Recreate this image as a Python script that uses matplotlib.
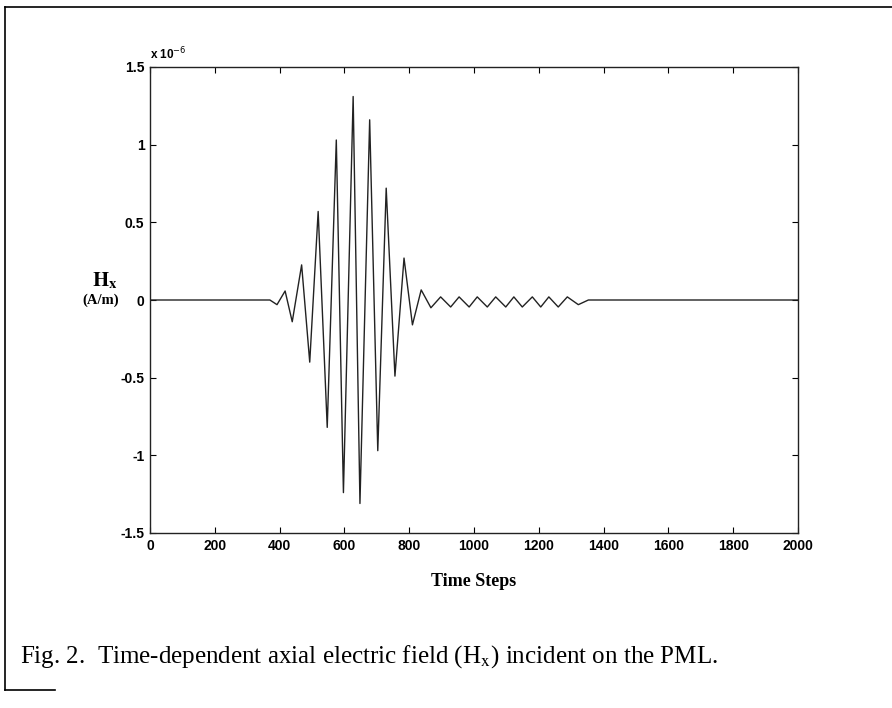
import numpy as np
import matplotlib
matplotlib.use("Agg")
import matplotlib.pyplot as plt
from matplotlib.lines import Line2D

# data: extrema of the pulse (values in units of 1e-6 A/m)
time_steps = [0, 370, 392, 417, 439, 468, 493, 519, 547, 575, 597, 627, 648,
              678, 703, 729, 756, 784, 810, 837, 867, 897, 928, 954, 985,
              1010, 1041, 1067, 1098, 1123, 1149, 1180, 1206, 1231, 1260,
              1288, 1322, 1353, 1375, 2000]
hx_e6 = [0.0, 0.0, -0.03, 0.058, -0.14, 0.226, -0.40, 0.57, -0.82, 1.03,
         -1.24, 1.31, -1.31, 1.16, -0.97, 0.72, -0.49, 0.27, -0.16, 0.065,
         -0.05, 0.02, -0.045, 0.02, -0.045, 0.02, -0.045, 0.02, -0.045,
         0.02, -0.045, 0.02, -0.045, 0.02, -0.045, 0.02, -0.03, 0.0, 0.0,
         0.0]

x_ticks = [0, 200, 400, 600, 800, 1000, 1200, 1400, 1600, 1800, 2000]
y_ticks = [-1.5, -1, -0.5, 0, 0.5, 1, 1.5]
y_tick_labels = ["-1.5", "-1", "-0.5", "0", "0.5", "1", "1.5"]

W, H = 892, 708
fig = plt.figure(figsize=(W / 100, H / 100), dpi=100)
fig.patch.set_facecolor("white")

# axes box in pixel coordinates of the scan
left, right, top, bottom = 150, 798, 67, 533
ax = fig.add_axes([left / W, (H - bottom) / H, (right - left) / W, (bottom - top) / H])

ax.plot(time_steps, hx_e6, color="#222222", linewidth=1.0)

ax.set_xlim(0, 2000)
ax.set_ylim(-1.5, 1.5)
ax.set_xticks(x_ticks)
ax.set_yticks(y_ticks)
ax.set_yticklabels(y_tick_labels)
ax.tick_params(direction="in", length=4, width=0.8, top=True, right=True,
               labelsize=10, pad=4, colors="black")
for lbl in ax.get_xticklabels() + ax.get_yticklabels():
    lbl.set_family("Liberation Sans")
    lbl.set_fontweight("bold")
for sp in ax.spines.values():
    sp.set_linewidth(1.0)
    sp.set_color("#222222")

# multiplier shown in the MATLAB style
fig.text(150 / W, 1 - 62 / H, r"x 10$^{-6}$", fontsize=8.5, family="Liberation Sans",
         fontweight="bold", ha="left", va="bottom")

# axis labels
fig.text(105 / W, 1 - 281 / H, r"$\mathbf{H}_{\mathbf{x}}$", fontsize=15,
         family="Liberation Serif", ha="center", va="center",
         math_fontfamily="stix")
fig.text(101 / W, 1 - 300 / H, "(A/m)", fontsize=10.5, family="Liberation Serif",
         fontweight="bold", ha="center", va="center")
fig.text(474 / W, 1 - 582 / H, "Time Steps", fontsize=13, family="Liberation Serif",
         fontweight="bold", ha="center", va="center")

# caption
fig.text(20 / W, 1 - 657 / H, r"Fig. 2.  Time-dependent axial electric field (H$_{\rm x}$) incident on the PML.",
         fontsize=18, family="Liberation Serif", ha="left", va="center",
         math_fontfamily="stix")

# page frame of the scan
frame_kw = dict(color="black", linewidth=1.2, transform=fig.transFigure)
fig.add_artist(Line2D([5 / W, 1.0], [1 - 7 / H, 1 - 7 / H], **frame_kw))
fig.add_artist(Line2D([5 / W, 5 / W], [1 - 7 / H, 1 - 690 / H], **frame_kw))
fig.add_artist(Line2D([5 / W, 55 / W], [1 - 690 / H, 1 - 690 / H], **frame_kw))

fig.savefig("out.png", dpi=100)
